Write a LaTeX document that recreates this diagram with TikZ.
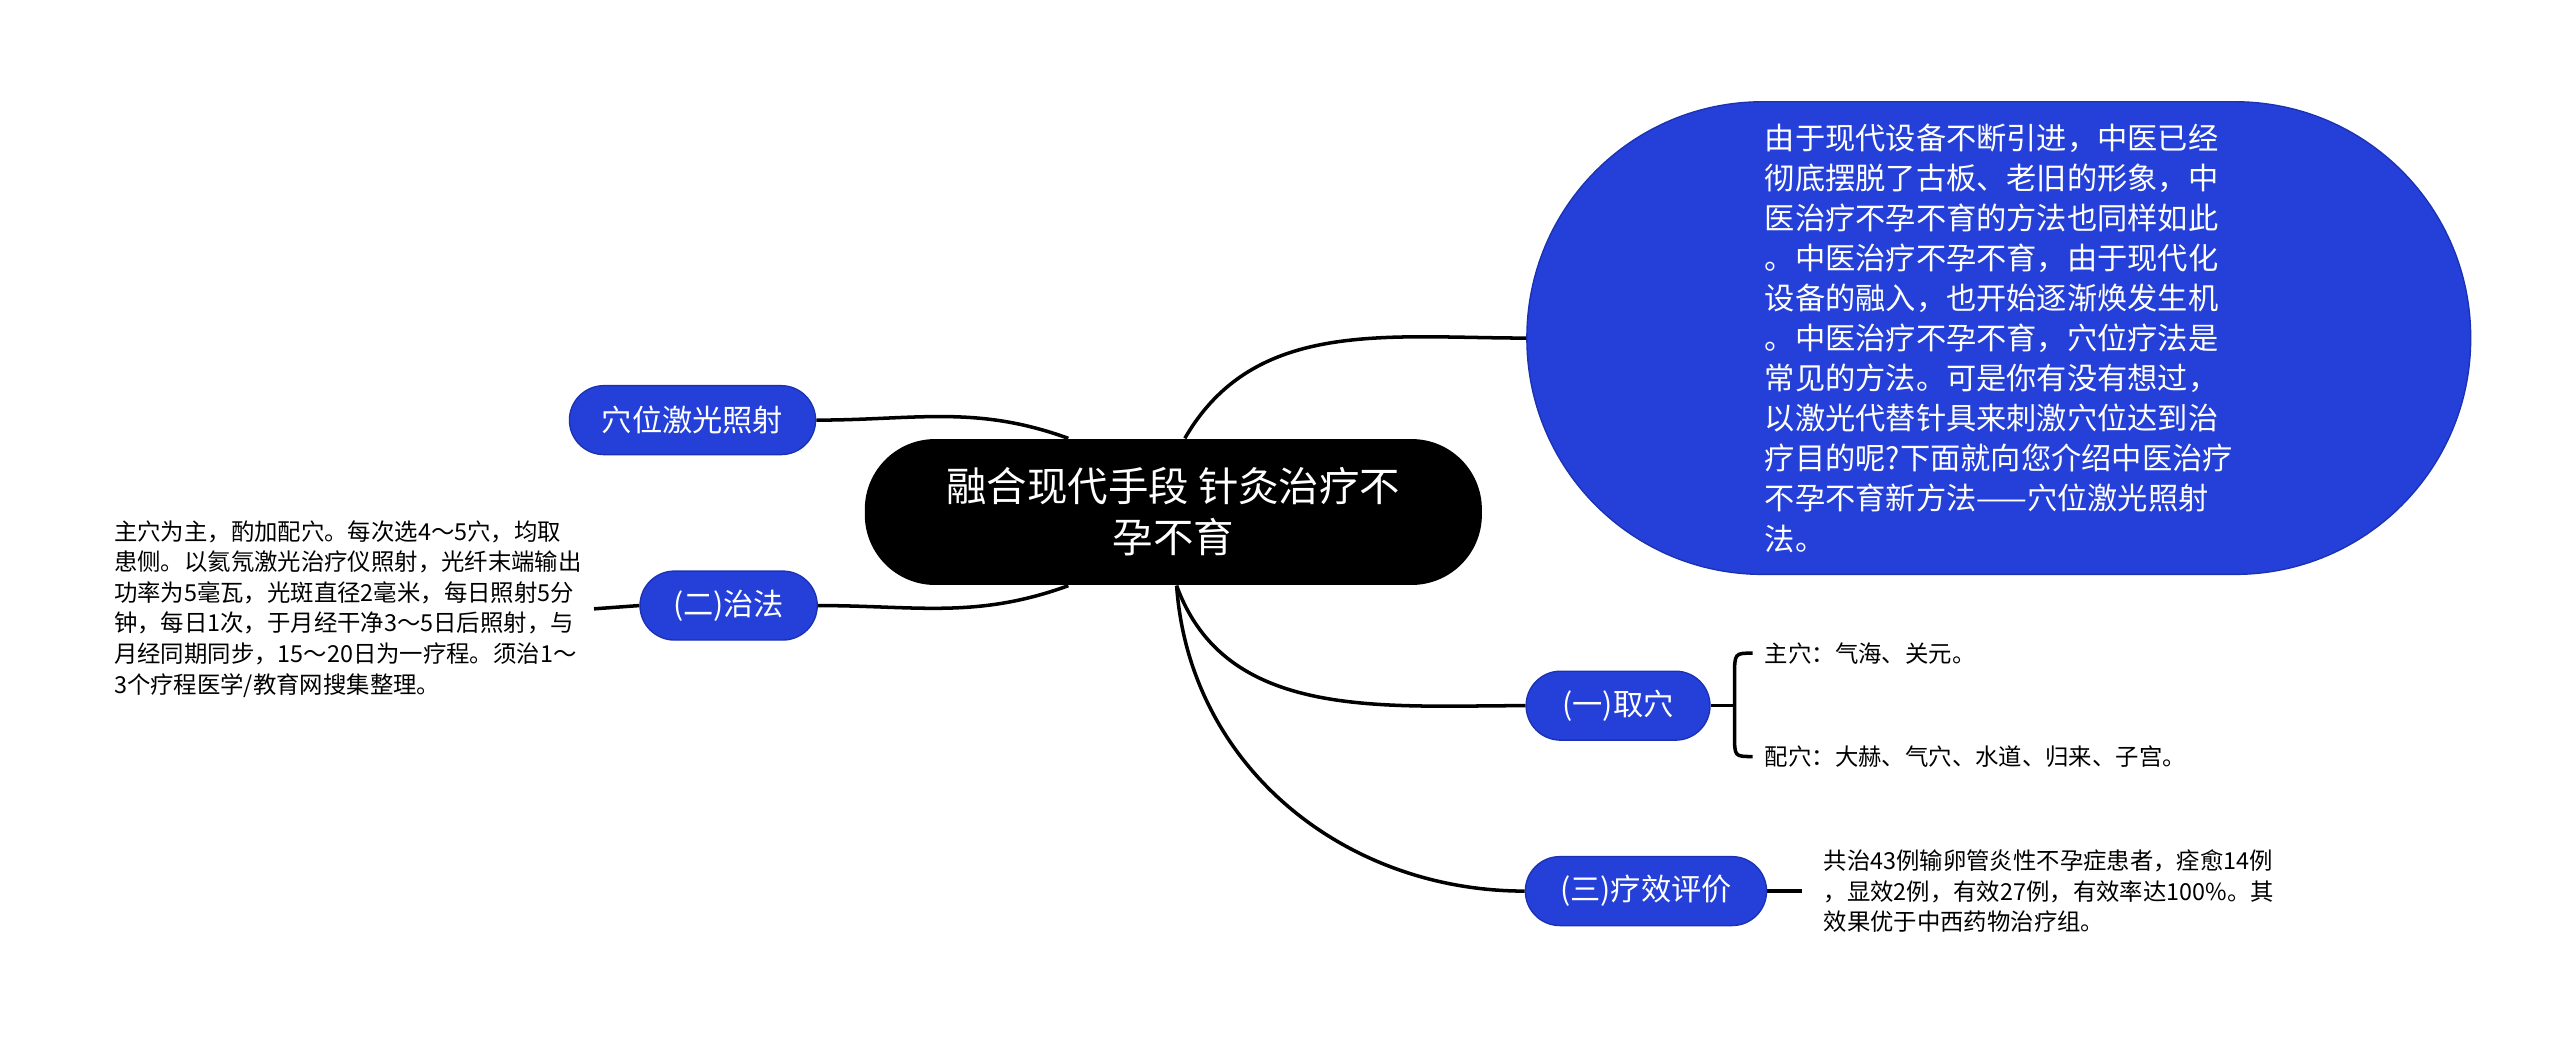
\documentclass[tikz,border=0pt]{standalone}
\usepackage{fontspec}
\setmainfont{Noto Sans CJK SC}
\usetikzlibrary{calc}
\definecolor{mapblue}{RGB}{36,64,216}
\definecolor{mapedge}{RGB}{28,50,180}

\begin{document}
\begin{tikzpicture}[x=0.01641cm,y=0.01641cm,
  link/.style={line width=1pt},
  topic/.style={fill=black,text=white,rounded corners=20pt,minimum width=175.5pt,minimum height=41.5pt,inner sep=0pt,align=center,font=\fontsize{11.5}{14.5}\selectfont},
  bigleaf/.style={fill=mapblue,draw=mapedge,text=white,rounded corners=67pt,minimum width=268.4pt,minimum height=134.4pt,inner sep=0pt,align=left,font=\fontsize{8.6}{11.4}\selectfont},
  branch/.style={fill=mapblue,draw=mapedge,text=white,rounded corners=9.8pt,minimum height=19.6pt,inner sep=0pt,font=\fontsize{8.6}{10}\selectfont},
  note/.style={align=left,inner sep=3.3pt,font=\fontsize{6.65}{8.7}\selectfont}]
  \useasboundingbox (0,0) rectangle (1560,-636);
  % Central topic
  \node[topic] (root) at (715,-312) {融合现代手段 针灸治疗不\\孕不育};
  % Intro bubble
  \node[bigleaf] (intro) at (1218,-206) {由于现代设备不断引进，中医已经\\彻底摆脱了古板、老旧的形象，中\\医治疗不孕不育的方法也同样如此\\。中医治疗不孕不育，由于现代化\\设备的融入，也开始逐渐焕发生机\\。中医治疗不孕不育，穴位疗法是\\常见的方法。可是你有没有想过，\\以激光代替针具来刺激穴位达到治\\疗目的呢?下面就向您介绍中医治疗\\不孕不育新方法——穴位激光照射\\法。};
  % Branches
  \node[branch,minimum width=70pt] (laser) at (422,-256) {穴位激光照射};
  \node[branch,minimum width=50.4pt] (method) at (444,-369) {(二)治法};
  \node[branch,minimum width=52.3pt] (points) at (986,-430) {(一)取穴};
  \node[branch,minimum width=68.6pt] (effect) at (1003,-543) {(三)疗效评价};
  % Notes
  \node[note,anchor=east] (methodtxt) at (362,-371) {主穴为主，酌加配穴。每次选4～5穴，均取\\患侧。以氦氖激光治疗仪照射，光纤末端输出\\功率为5毫瓦，光斑直径2毫米，每日照射5分\\钟，每日1次，于月经干净3～5日后照射，与\\月经同期同步，15～20日为一疗程。须治1～\\3个疗程医学/教育网搜集整理。};
  \node[note,anchor=west] (mainpt) at (1068,-398) {主穴：气海、关元。};
  \node[note,anchor=west] (extrapt) at (1068,-461) {配穴：大赫、气穴、水道、归来、子宫。};
  \node[note,anchor=west,inner xsep=6pt] (effecttxt) at (1098,-543) {共治43例输卵管炎性不孕症患者，痊愈14例\\，显效2例，有效27例，有效率达100\%。其\\效果优于中西药物治疗组。};
  % Connectors from the centre
  \draw[link] ($(root.north)+(7,0)$) to[out=60,in=180] (intro.west);
  \draw[link] (laser.east) to[out=0,in=160] ($(root.north)+(-64,0)$);
  \draw[link] (method.east) to[out=0,in=200] ($(root.south)+(-64,0)$);
  \draw[link] ($(root.south)+(2,0)$) to[out=-70,in=180] (points.west);
  \draw[link] ($(root.south)+(2,0)$) to[out=-86,in=180] (effect.west);
  % Leaf connectors
  \draw[link] (method.west) -- (methodtxt.east);
  \draw[link] (effect.east) -- (effecttxt.west);
  \draw[link] (points.east) -- (1057,-430);
  \draw[link] (mainpt.west) .. controls (1057,-398) .. (1057,-412) -- (1057,-448) .. controls (1057,-461) .. (extrapt.west);
\end{tikzpicture}
\end{document}
